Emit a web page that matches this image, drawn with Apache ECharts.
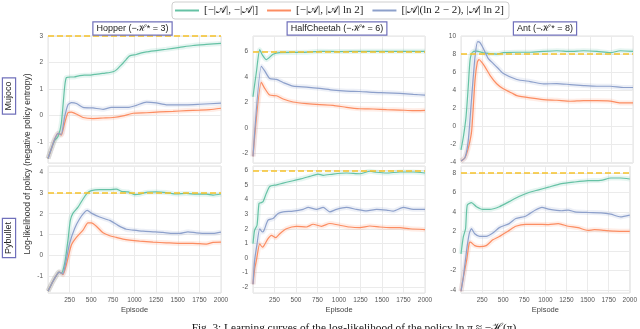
<!DOCTYPE html>
<html>
<head>
<meta charset="utf-8">
<title>Learning curves</title>
<script src="https://cdn.jsdelivr.net/npm/echarts@6/dist/echarts.min.js"></script>
<style>
  html, body { margin: 0; padding: 0; background: #fff; }
  #chart { width: 640px; height: 329px; }
</style>
</head>
<body>
<div id="chart"></div>
<script>
// legend names, environments, rows
var seriesNames = ['[−|𝒜|, −|𝒜|]', '[−|𝒜|, |𝒜| ln 2]', '[|𝒜|(ln 2 − 2), |𝒜| ln 2]'];
var envNames = ['Hopper', 'HalfCheetah', 'Ant'];
var targetEntropy = [3, 6, 8];
var rowNames = ['Mujoco', 'Pybullet'];
var episodeTicks = [250, 500, 750, 1000, 1250, 1500, 1750, 2000];

// y extents of each panel (Mujoco row then Pybullet row)
var yMins = [-1.8, -2.75, -4.05, -1.82, -2.4, -4.3];
var yMaxs = [3, 7.2, 10, 4.3, 6.3, 8.7];
var yIntervals = [1, 2, 2, 1, 1, 2];

// Mujoco - Hopper
var hopperMjA = [[0,-1.63],[40,-1.25],[77,-0.95],[116,-0.8],[154,-0.3],[193,1.09],[212,1.43],[260,1.45],[300,1.45],[366,1.5],[420,1.52],[480,1.52],[540,1.55],[597,1.57],[660,1.6],[713,1.62],[760,1.66],[790,1.72],[830,1.85],[867,1.97],[905,2.12],[944,2.25],[1021,2.3],[1080,2.36],[1137,2.4],[1252,2.45],[1368,2.5],[1522,2.57],[1676,2.64],[1830,2.68],[2000,2.72]];
var hopperMjB = [[0,-1.63],[40,-1.25],[77,-0.9],[116,-0.68],[135,-0.7],[154,-0.75],[193,-0.28],[231,0.1],[270,0.12],[328,0.05],[405,-0.08],[520,-0.12],[636,-0.1],[752,-0.08],[867,-0.02],[983,0.08],[1137,0.1],[1291,0.13],[1445,0.15],[1599,0.18],[1753,0.2],[1868,0.22],[2000,0.27]];
var hopperMjC = [[0,-1.63],[40,-1.25],[77,-0.9],[116,-0.68],[135,-0.7],[154,-0.72],[193,-0.05],[231,0.4],[270,0.48],[328,0.45],[405,0.3],[520,0.28],[636,0.23],[732,0.3],[829,0.3],[925,0.3],[1021,0.38],[1137,0.5],[1252,0.47],[1368,0.4],[1599,0.4],[1753,0.42],[2000,0.46]];

// Mujoco - HalfCheetah
var cheetahMjA = [[0,2.44],[40,4.4],[78,6.13],[110,5.7],[155,5.35],[233,5.77],[311,5.9],[583,5.92],[777,6.0],[1000,5.98],[1300,6.0],[1600,6.0],[2000,6.0]];
var cheetahMjB = [[0,-2.23],[97,3.56],[136,3.1],[194,2.57],[272,2.52],[350,2.26],[466,2.03],[621,1.9],[777,1.82],[932,1.77],[1087,1.61],[1243,1.5],[1398,1.48],[1553,1.43],[1709,1.4],[1864,1.35],[2000,1.38]];
var cheetahMjC = [[0,-2.23],[97,4.83],[136,4.47],[194,3.87],[272,3.8],[350,3.56],[466,3.27],[621,3.2],[777,3.1],[932,2.96],[1087,2.88],[1243,2.85],[1398,2.78],[1553,2.75],[1709,2.7],[1864,2.62],[2000,2.57]];

// Mujoco - Ant
var antMjA = [[0,-2.6],[27,-1.2],[58,1.0],[84,4.35],[105,7.3],[132,8.2],[182,8.33],[260,8.14],[340,8.05],[415,8.0],[493,8.15],[649,8.2],[804,8.2],[959,8.3],[1115,8.37],[1270,8.3],[1425,8.37],[1581,8.3],[1736,8.15],[1852,8.37],[2000,8.3]];
var antMjB = [[0,-3.83],[46,-3.46],[90,-2.2],[124,-0.5],[163,5.1],[190,7.1],[209,7.4],[240,7.1],[279,6.58],[337,5.65],[415,4.72],[492,4.16],[609,3.6],[649,3.4],[804,3.15],[959,2.96],[1115,2.89],[1270,2.78],[1425,2.85],[1581,2.85],[1736,2.8],[1852,2.6],[2000,2.6]];
var antMjC = [[0,-3.83],[46,-3.46],[84,-1.6],[124,3.23],[163,7.7],[194,9.37],[221,9.26],[260,8.62],[318,7.5],[376,6.95],[434,6.4],[492,5.85],[649,5.19],[804,4.96],[959,4.7],[1115,4.74],[1270,4.63],[1425,4.52],[1581,4.44],[1736,4.44],[1891,4.3],[2000,4.3]];

// Pybullet - Hopper
var hopperPbA = [[0,-1.73],[58,-1.25],[96,-0.98],[127,-0.81],[154,-0.86],[173,-0.73],[200,-0.22],[231,0.73],[258,1.68],[289,2.03],[347,2.32],[405,2.71],[451,2.98],[501,3.11],[597,3.16],[713,3.16],[790,3.19],[848,3.08],[925,3.05],[1002,2.92],[1060,2.94],[1137,3.03],[1252,3.05],[1368,3.02],[1484,2.95],[1599,2.98],[1715,2.94],[1830,2.94],[1908,2.9],[2000,2.95]];
var hopperPbB = [[0,-1.73],[58,-1.25],[96,-0.98],[127,-0.81],[154,-0.86],[173,-0.94],[212,-0.46],[270,0.49],[328,0.86],[405,1.21],[462,1.56],[501,1.56],[559,1.4],[636,1.08],[713,0.94],[790,0.86],[867,0.78],[944,0.73],[1060,0.68],[1214,0.63],[1368,0.6],[1522,0.57],[1676,0.57],[1830,0.54],[1908,0.62],[2000,0.63]];
var hopperPbC = [[0,-1.73],[58,-1.25],[96,-0.98],[127,-0.81],[154,-0.86],[173,-0.9],[200,-0.46],[250,0.57],[308,1.29],[366,1.76],[424,2.08],[455,2.16],[501,2.03],[597,1.84],[713,1.68],[809,1.44],[906,1.25],[983,1.21],[1098,1.16],[1214,1.13],[1329,1.1],[1445,1.05],[1522,1.05],[1618,1.13],[1715,1.08],[1830,1.05],[1908,1.05],[2000,1.11]];

// Pybullet - HalfCheetah
var cheetahPbA = [[0,0.97],[19,1.9],[47,2.24],[70,3.74],[97,3.79],[117,3.86],[155,4.43],[194,4.9],[272,5.01],[350,5.13],[427,5.24],[544,5.4],[660,5.59],[757,5.75],[816,5.66],[932,5.75],[1087,5.82],[1243,5.77],[1359,5.94],[1437,5.87],[1553,5.82],[1709,5.89],[1864,5.89],[2000,5.82]];
var cheetahPbB = [[0,-1.8],[19,-0.76],[39,-0.18],[78,0.97],[109,0.74],[128,0.85],[175,1.32],[214,1.55],[264,1.39],[311,1.66],[388,2.0],[505,2.17],[621,2.12],[699,2.31],[796,2.17],[893,2.36],[1010,2.24],[1126,2.12],[1243,2.08],[1359,2.19],[1476,2.12],[1592,2.08],[1709,2.08],[1825,2.0],[2000,1.94]];
var cheetahPbC = [[0,-1.8],[19,-0.18],[47,0.97],[78,2.0],[109,1.78],[128,1.89],[175,2.59],[233,2.7],[291,3.05],[350,3.16],[466,3.21],[583,3.33],[641,3.46],[738,3.33],[816,3.46],[893,3.16],[971,3.33],[1087,3.46],[1204,3.33],[1320,3.23],[1437,3.33],[1553,3.28],[1631,3.21],[1748,3.46],[1864,3.33],[2000,3.33]];

// Pybullet - Ant
var antPbA = [[0,-0.3],[27,1.42],[54,2.28],[74,4.7],[124,4.95],[183,4.53],[260,4.26],[338,4.26],[454,4.53],[571,5.05],[687,5.57],[804,5.99],[920,6.26],[1037,6.54],[1192,6.89],[1348,7.06],[1503,7.2],[1658,7.23],[1775,7.47],[1891,7.47],[2000,7.37]];
var antPbB = [[0,-4.12],[27,-2.73],[66,-1.0],[97,0.8],[113,0.9],[163,0.55],[221,0.45],[299,0.55],[377,1.14],[454,1.49],[571,2.11],[649,2.53],[765,2.73],[882,2.73],[1037,2.7],[1153,2.8],[1270,2.53],[1387,2.39],[1503,2.11],[1581,2.18],[1697,2.11],[1814,2.04],[2000,2.01]];
var antPbC = [[0,-4.12],[27,-2.73],[66,0.03],[97,1.76],[124,2.28],[163,1.76],[221,1.49],[299,1.49],[377,1.83],[454,2.39],[571,2.8],[649,3.32],[765,3.56],[882,4.19],[959,4.46],[1037,4.29],[1192,4.12],[1270,4.19],[1348,4.01],[1503,3.94],[1658,3.91],[1775,3.77],[1891,3.49],[2000,3.67]];

var panelData = [
  [hopperMjA, hopperMjB, hopperMjC],
  [cheetahMjA, cheetahMjB, cheetahMjC],
  [antMjA, antMjB, antMjC],
  [hopperPbA, hopperPbB, hopperPbC],
  [cheetahPbA, cheetahPbB, cheetahPbC],
  [antPbA, antPbB, antPbC]
];

var colors = ['#66c2a5', '#fc8d62', '#8da0cb'];
var lefts = [48, 253, 461];
var widths = [173, 172, 172];
var tops = [36, 166];
var plotH = 127;
var sans = 'Liberation Sans, Arial, sans-serif';
var serif = 'Liberation Serif, DejaVu Serif, serif';

var grids = [], xAxes = [], yAxes = [], series = [];
for (var p = 0; p < 6; p++) {
  var col = p % 3, row = Math.floor(p / 3);
  grids.push({
    left: lefts[col], top: tops[row], width: widths[col], height: plotH,
    show: true, borderColor: '#e3e3e3', borderWidth: 1, backgroundColor: '#fff'
  });
  xAxes.push({
    type: 'value', gridIndex: p, min: 0, max: 2000, interval: 250,
    axisLine: { show: false }, axisTick: { show: false },
    axisLabel: {
      show: row === 1, fontSize: 6.5, color: '#555', margin: 4, fontFamily: sans,
      formatter: function (v) { return episodeTicks.indexOf(v) >= 0 ? String(v) : ''; }
    },
    splitLine: { show: true, lineStyle: { color: '#ebebeb', width: 1 } },
    name: row === 1 ? 'Episode' : '', nameLocation: 'middle', nameGap: 13,
    nameTextStyle: { fontSize: 7.5, color: '#444', fontFamily: sans }
  });
  yAxes.push({
    type: 'value', gridIndex: p, min: yMins[p], max: yMaxs[p],
    minInterval: yIntervals[p], maxInterval: yIntervals[p],
    axisLine: { show: false }, axisTick: { show: false },
    axisLabel: {
      fontSize: 6.5, color: '#555', margin: 5, fontFamily: sans,
      formatter: function (v) { return Math.abs(v - Math.round(v)) < 1e-6 ? String(Math.round(v)) : ''; }
    },
    splitLine: { show: true, lineStyle: { color: '#ebebeb', width: 1 } }
  });
  for (var s = 0; s < 3; s++) {
    // faint band underneath each curve
    series.push({
      type: 'line', name: 'band' + p + s, xAxisIndex: p, yAxisIndex: p,
      data: panelData[p][s], showSymbol: false, smooth: 0.2, silent: true,
      lineStyle: { color: colors[s], width: 5, opacity: 0.16 }, z: 1
    });
    var item = {
      type: 'line', name: seriesNames[s], xAxisIndex: p, yAxisIndex: p,
      data: panelData[p][s], showSymbol: false, smooth: 0.2,
      color: colors[s], lineStyle: { width: 1.2 }, z: 3
    };
    if (s === 0) {
      item.markLine = {
        silent: true, symbol: 'none', label: { show: false }, z: 5,
        lineStyle: { color: '#f6c22a', type: 'dashed', width: 1.5, opacity: 1 },
        emphasis: { disabled: true },
        data: [{ yAxis: targetEntropy[col] }]
      };
    }
    series.push(item);
  }
}

var graphics = [];
for (var c = 0; c < 3; c++) {
  graphics.push({
    type: 'text', x: lefts[c] + widths[c] / 2 - 2, y: 28.5, z: 10,
    style: {
      text: envNames[c] + ' (−ℋ* = ' + targetEntropy[c] + ')',
      font: '9px ' + sans, fill: '#222', align: 'center', verticalAlign: 'middle',
      backgroundColor: '#fff', borderColor: '#7070bb', borderWidth: 1.2, padding: [2, 3, 1, 3]
    }
  });
}
var rowCenters = [96, 238];
for (var r = 0; r < 2; r++) {
  graphics.push({
    type: 'text', x: 9, y: rowCenters[r], rotation: Math.PI / 2, z: 10,
    style: {
      text: rowNames[r], font: '9px ' + sans, fill: '#222', align: 'center', verticalAlign: 'middle',
      backgroundColor: '#fff', borderColor: '#7070bb', borderWidth: 1.2, padding: [2, 3, 1, 3]
    }
  });
}
graphics.push({
  type: 'text', x: 28, y: 164, rotation: Math.PI / 2, z: 10,
  style: {
    text: 'Log-likelihood of policy (negative policy entropy)',
    font: '8.5px ' + sans, fill: '#333', align: 'center', verticalAlign: 'middle'
  }
});
graphics.push({
  type: 'text', x: 354, y: 328.5, z: 10,
  style: {
    text: 'Fig. 3: Learning curves of the log-likelihood of the policy ln π ≈ −ℋ(π)',
    font: '11.3px ' + serif, fill: '#111', align: 'center', verticalAlign: 'middle'
  }
});

var chart = echarts.init(document.getElementById('chart'), null, { renderer: 'canvas' });
chart.setOption({
  animation: false,
  backgroundColor: '#fff',
  legend: {
    data: seriesNames, left: 172, top: 2, padding: [3, 5, 3, 3], itemGap: 9,
    itemWidth: 24, itemHeight: 2, icon: 'rect',
    borderColor: '#cfcfcf', borderWidth: 1, borderRadius: 3,
    textStyle: { fontSize: 11, color: '#222', fontFamily: serif }
  },
  grid: grids,
  xAxis: xAxes,
  yAxis: yAxes,
  series: series,
  graphic: graphics
});
</script>
</body>
</html>
